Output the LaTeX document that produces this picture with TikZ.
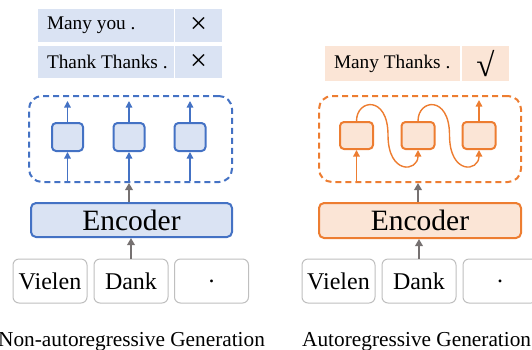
\documentclass[tikz,border=0pt]{standalone}
\usepackage{fontspec}
\setmainfont{Liberation Serif}
\usetikzlibrary{arrows.meta}
\definecolor{bluebd}{HTML}{4472C4}
\definecolor{bluefl}{HTML}{DAE3F3}
\definecolor{orbd}{HTML}{ED7D31}
\definecolor{orfl}{HTML}{FBE5D6}
\definecolor{grayar}{HTML}{767171}
\definecolor{inbd}{HTML}{BFBFBF}
\begin{document}
\begin{tikzpicture}[x=1pt,y=-1pt,
  tcell/.style={fill=#1, inner sep=0pt},
  celltext/.style={anchor=west, inner sep=0pt, font=\fontsize{19.3}{21}\selectfont},
  marktext/.style={inner sep=0pt, font=\fontsize{#1}{#1}\selectfont},
  cellbox/.style={draw=#1, line width=2pt, rounded corners=4pt, minimum width=31pt, minimum height=28pt, inner sep=0pt},
  dashbox/.style={draw=#1, line width=2pt, dash pattern=on 6pt off 4pt, rounded corners=13pt, minimum width=203pt, minimum height=86pt, inner sep=0pt},
  encbox/.style={draw=#1, line width=2pt, rounded corners=5pt, minimum width=201pt, minimum height=34pt, inner sep=0pt, font=\fontsize{29.5}{31}\selectfont},
  inbox/.style={draw=inbd, line width=1pt, fill=white, rounded corners=6pt, minimum width=74pt, minimum height=44pt, inner sep=0pt, font=\fontsize{24}{26}\selectfont},
  grayarrow/.style={draw=grayar, line width=2.3pt, -{Triangle[length=7pt,width=7.5pt]}},
  smallarrow/.style={draw=#1, line width=1.4pt, -{Triangle[length=6.5pt,width=6.5pt]}},
  caption/.style={font=\fontsize{21.3}{24}\selectfont, inner sep=0pt, anchor=base west}
]
\useasboundingbox (0,0) rectangle (532,349);

% ---------------- Left: Non-autoregressive ----------------
\node[tcell=bluefl, minimum width=136pt, minimum height=33pt] (lt1) at (106,25.5) {};
\node[celltext] (lt1t) at ([xshift=9pt]lt1.west) {Many you .};
\node[tcell=bluefl, minimum width=47pt, minimum height=33pt] (lx1) at (198.5,25.5) {};
\node[marktext=30] (lx1t) at (lx1) {×};
\node[tcell=bluefl, minimum width=136pt, minimum height=32pt] (lt2) at (106,62) {};
\node[celltext] (lt2t) at ([xshift=9pt]lt2.west) {Thank Thanks .};
\node[tcell=bluefl, minimum width=47pt, minimum height=32pt] (lx2) at (198.5,62) {};
\node[marktext=30] (lx2t) at (lx2) {×};

\node[dashbox=bluebd] (dl) at (130.5,139) {};
\node[cellbox=bluebd, fill=bluefl] (b1) at (67.5,137) {};
\node[cellbox=bluebd, fill=bluefl] (b2) at (129,137) {};
\node[cellbox=bluebd, fill=bluefl] (b3) at (190,137) {};
\foreach \b in {b1,b2,b3}{
  \draw[smallarrow=bluebd] (\b |- dl.south) ++(0,-2) -- (\b.south);
  \draw[smallarrow=bluebd] (\b.north) -- ++(0,-21);
}

\node[encbox=bluebd, fill=bluefl] (el) at (131.5,220) {Encoder};
\draw[grayarrow] (b2 |- el.north) -- (b2 |- dl.south);

\node[inbox] (lv) at (50,281) {Vielen};
\node[inbox] (ld) at (131,281) {Dank};
\node[inbox] (lp) at (211.5,281) {.};
\draw[grayarrow] (ld.north) -- (ld |- el.south);

\node[caption] (cl) at (-2,346) {Non-autoregressive Generation};

% ---------------- Right: Autoregressive ----------------
\node[tcell=orfl, minimum width=135pt, minimum height=35pt] (rt1) at (392.5,63.5) {};
\node[celltext] (rt1t) at ([xshift=9pt]rt1.west) {Many Thanks .};
\node[tcell=orfl, minimum width=47pt, minimum height=35pt] (rc1) at (485.5,63.5) {};
\node[marktext=33] (rc1t) at (rc1) {√};

\node[dashbox=orbd, minimum width=202pt] (dr) at (420,139) {};
\node[cellbox=orbd, fill=orfl, minimum width=33pt, minimum height=27pt] (c1) at (356.5,135.5) {};
\node[cellbox=orbd, fill=orfl, minimum width=33pt, minimum height=27pt] (c2) at (418,135.5) {};
\node[cellbox=orbd, fill=orfl, minimum width=33pt, minimum height=27pt] (c3) at (479,135.5) {};
\draw[smallarrow=orbd] (c1 |- dr.south) ++(0,-2) -- (c1.south);
\draw[smallarrow=orbd] (c3.north) -- ++(0,-21);
\draw[smallarrow=orbd] (c1.north) .. controls +(0,-22) and +(0,-40) .. (388,135)
      .. controls +(0,40) and +(0,22) .. (c2.south);
\draw[smallarrow=orbd] (c2.north) .. controls +(0,-22) and +(0,-40) .. (449.5,135)
      .. controls +(0,40) and +(0,22) .. (c3.south);

\node[encbox=orbd, fill=orfl, minimum width=202pt, minimum height=35pt] (er) at (420,220.5) {Encoder};
\draw[grayarrow] (c2 |- er.north) -- (c2 |- dr.south);

\node[inbox, minimum width=73pt] (rv) at (338.5,281) {Vielen};
\node[inbox] (rd) at (419,281) {Dank};
\node[inbox] (rp) at (500,281) {.};
\draw[grayarrow] (rd.north) -- (rd |- er.south);

\node[caption] (cr) at (302,346) {Autoregressive Generation};
\end{tikzpicture}
\end{document}
